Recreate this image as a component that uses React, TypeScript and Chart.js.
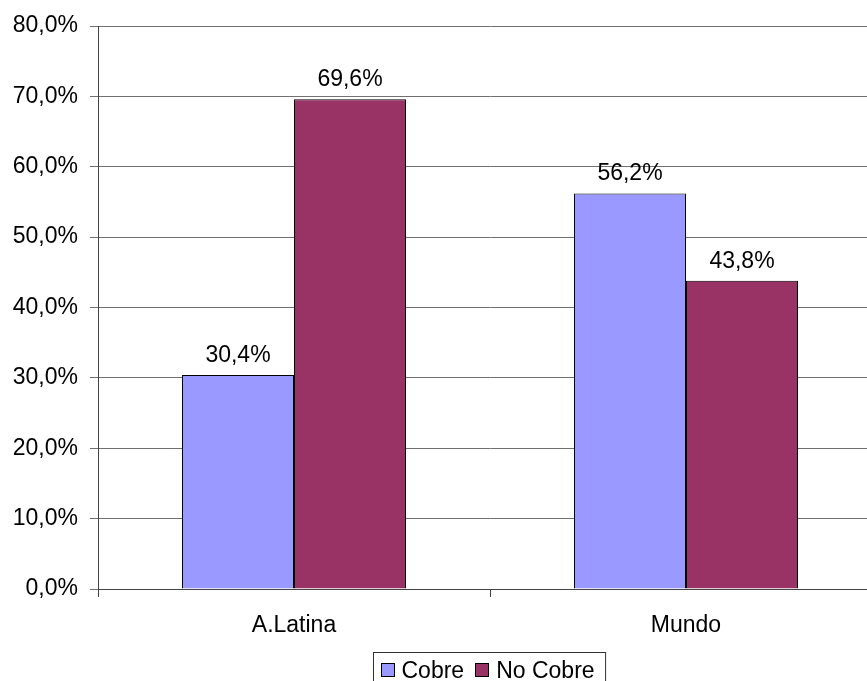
import React, { useEffect, useRef } from "react";
import { Chart, registerables } from "chart.js";

Chart.register(...registerables);

const categories = ["A.Latina", "Mundo"];
const seriesLabels = ["Cobre", "No Cobre"];
const cobreValues = [30.4, 56.2];
const noCobreValues = [69.6, 43.8];
const seriesColors = ["#9999FF", "#993366"];
const yMin = 0;
const yMax = 80;
const yStep = 10;

const FONT = "'Liberation Sans', Arial, sans-serif";
const fmt = (v: number) => v.toFixed(1).replace(".", ",") + "%";

const valueLabels = {
  id: "valueLabels",
  afterDatasetsDraw(chart: any) {
    const ctx = chart.ctx;
    ctx.save();
    ctx.font = `23px ${FONT}`;
    ctx.fillStyle = "#000";
    ctx.textAlign = "center";
    ctx.textBaseline = "alphabetic";
    chart.data.datasets.forEach((ds: any, i: number) => {
      const meta = chart.getDatasetMeta(i);
      meta.data.forEach((bar: any, j: number) => {
        ctx.fillText(fmt(ds.data[j]), bar.x, bar.y - 13);
      });
    });
    ctx.restore();
  },
};

const boxLegend = {
  id: "boxLegend",
  afterDraw(chart: any) {
    const ctx = chart.ctx;
    const area = chart.chartArea;
    ctx.save();
    ctx.font = `23px ${FONT}`;
    const sq = 14;
    const gapText = 7;
    const gapItem = 11;
    const padX = 7;
    const items = chart.data.datasets.map((ds: any) => ({
      label: ds.label,
      color: ds.backgroundColor,
      w: ctx.measureText(ds.label).width,
    }));
    let total = padX * 2;
    items.forEach((it: any, i: number) => {
      total += sq + gapText + it.w + (i < items.length - 1 ? gapItem : 0);
    });
    const cx = (area.left + area.right) / 2;
    const left = Math.round(cx - total / 2) - 2.5;
    const top = 652.5;
    ctx.strokeStyle = "#333";
    ctx.lineWidth = 1;
    ctx.strokeRect(left, top, total + 4, 60);
    let x = left + padX;
    const midY = 670;
    items.forEach((it: any) => {
      ctx.fillStyle = it.color;
      ctx.fillRect(Math.round(x), midY - sq / 2, sq, sq);
      ctx.strokeStyle = "#000";
      ctx.strokeRect(Math.round(x) + 0.5, midY - sq / 2 + 0.5, sq - 1, sq - 1);
      x += sq + gapText;
      ctx.fillStyle = "#000";
      ctx.textAlign = "left";
      ctx.textBaseline = "alphabetic";
      ctx.fillText(it.label, x, 678);
      x += it.w + gapItem;
    });
    ctx.restore();
  },
};

export default function App() {
  const ref = useRef<HTMLCanvasElement | null>(null);
  useEffect(() => {
    if (!ref.current) return;
    const chart = new Chart(ref.current, {
      type: "bar",
      data: {
        labels: categories,
        datasets: [
          {
            label: seriesLabels[0],
            data: cobreValues,
            backgroundColor: seriesColors[0],
            borderColor: "#000",
            borderWidth: 1,
          },
          {
            label: seriesLabels[1],
            data: noCobreValues,
            backgroundColor: seriesColors[1],
            borderColor: "#000",
            borderWidth: 1,
          },
        ],
      },
      options: {
        responsive: false,
        animation: false,
        events: [],
        layout: { padding: { top: 26, right: 8, left: 0, bottom: 0 } },
        datasets: {
          bar: { categoryPercentage: 2 / 3.5, barPercentage: 1 },
        },
        plugins: {
          legend: { display: false },
          tooltip: { enabled: false },
        },
        scales: {
          x: {
            afterFit: (s: any) => {
              s.height = 92;
            },
            grid: {
              offset: true,
              drawOnChartArea: false,
              drawTicks: true,
              tickLength: 8,
              color: "#444",
            },
            border: { color: "#444", width: 1 },
            ticks: {
              color: "#000",
              font: { family: FONT, size: 23 },
              padding: 15,
              maxRotation: 0,
            },
          },
          y: {
            min: yMin,
            max: yMax,
            afterFit: (s: any) => {
              s.width = 98;
            },
            grid: {
              color: "#707070",
              drawTicks: true,
              tickLength: 8,
            },
            border: { color: "#444", width: 1 },
            ticks: {
              stepSize: yStep,
              color: "#000",
              font: { family: FONT, size: 23 },
              padding: 12,
              callback: (v: any) => fmt(Number(v)),
            },
          },
        },
      },
      plugins: [valueLabels, boxLegend],
    });
    return () => chart.destroy();
  }, []);
  return (
    <div style={{ position: "fixed", left: 0, top: 0, width: 890, height: 681, background: "#fff" }}>
      <canvas ref={ref} width={890} height={681} style={{ width: 890, height: 681, display: "block" }} />
    </div>
  );
}
